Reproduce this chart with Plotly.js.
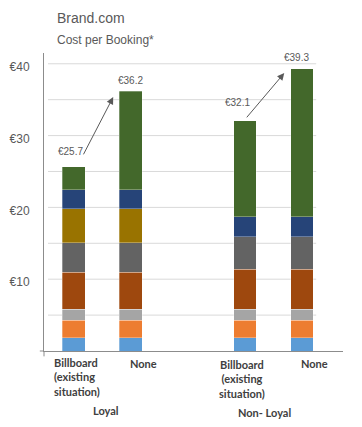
<!DOCTYPE html>
<html>
<head>
<meta charset="utf-8">
<script src="https://cdn.plot.ly/plotly-3.0.1.min.js"></script>
<style>html,body{margin:0;padding:0;background:#fff;}#chart{width:362px;height:427px;}</style>
</head>
<body>
<div id="chart"></div>
<script>
// ---- data ----
var groups = ["Loyal", "Non- Loyal"];
var categories = ["Billboard<br>(existing<br>situation)", "None", "Billboard<br>(existing<br>situation)", "None"];
var groupOf = [0, 0, 1, 1];
var itemOf = [0, 1, 0, 1];
var seg1 = [1.85, 1.85, 1.85, 1.85];   // light blue
var seg2 = [2.45, 2.45, 2.45, 2.45];   // orange
var seg3 = [1.5, 1.5, 1.5, 1.5];       // gray
var seg4 = [5.2, 5.2, 5.6, 5.6];       // brown
var seg5 = [4.1, 4.1, 4.5, 4.5];       // dark gray
var seg6 = [4.7, 4.7, 0, 0];           // gold
var seg7 = [2.65, 2.65, 2.8, 2.8];     // navy
var seg8 = [3.2, 13.75, 13.4, 20.6];   // green
var totals = [25.7, 36.2, 32.1, 39.3];
var yTicks = [10, 20, 30, 40];
var yTickText = ["€10", "€20", "€30", "€40"];

// ---- styling ----
var colors = ["#5B9BD5", "#ED7D31", "#A5A5A5", "#9E480E", "#636363", "#997300", "#264478", "#43682B"];
var series = [seg1, seg2, seg3, seg4, seg5, seg6, seg7, seg8];
var xs = groupOf.map(function (g, i) { return g * 3 + itemOf[i]; });

var traces = series.map(function (s, k) {
  return {
    type: "bar", x: xs, y: s, width: 0.4,
    marker: { color: colors[k], line: { width: 0.6, color: "rgba(255,255,255,0.5)" } },
    hoverinfo: "y", showlegend: false
  };
});

var grey = "#595959";
var annotations = [];
// title
annotations.push({ xref: "paper", yref: "paper", x: 0.037, y: 1.1164, xanchor: "left", yanchor: "middle",
  text: "Brand.com", showarrow: false, font: { family: "Liberation Sans, Arial", size: 14, color: grey } });
annotations.push({ xref: "paper", yref: "paper", x: 0.037, y: 1.0446, xanchor: "left", yanchor: "middle",
  text: "Cost per Booking*", showarrow: false, font: { family: "Liberation Sans, Arial", size: 12, color: grey } });

// value labels
var lblDx = [-3.8, -0.2, -7.3, -5.3];
var lblDy = [15.3, 10.7, 17.6, 11.7];
totals.forEach(function (t, i) {
  annotations.push({ x: xs[i], y: t, xref: "x", yref: "y", text: "€" + t.toFixed(1), showarrow: false,
    xanchor: "center", yanchor: "middle", xshift: lblDx[i], yshift: lblDy[i],
    font: { family: "Liberation Sans, Arial", size: 10, color: grey } });
});

// arrows between bars of each group
var arrows = [
  { tail: [0.156, 27.18], head: [0.69, 35.36] },
  { tail: [3.01, 32.33], head: [3.69, 38.7] }
];
arrows.forEach(function (a) {
  annotations.push({ x: a.head[0], y: a.head[1], ax: a.tail[0], ay: a.tail[1],
    xref: "x", yref: "y", axref: "x", ayref: "y", text: "", showarrow: true,
    arrowhead: 2, arrowsize: 1.4, arrowwidth: 1, arrowcolor: grey, standoff: 0, startstandoff: 0 });
});

// category labels
var catFont = { family: "Lato, Carlito, sans-serif", size: 11, color: "#404040", weight: "bold" };
var catPos = [
  { x: -0.388, y: -0.0883, xa: "left", al: "left" },
  { x: 1.226, y: -0.0413, xa: "center", al: "center" },
  { x: 2.954, y: -0.094, xa: "center", al: "center" },
  { x: 4.223, y: -0.0413, xa: "center", al: "center" }
];
categories.forEach(function (c, i) {
  annotations.push({ x: catPos[i].x, y: catPos[i].y, xref: "x", yref: "paper", text: "<b>" + c + "</b>",
    showarrow: false, xanchor: catPos[i].xa, yanchor: "middle", align: catPos[i].al, font: catFont });
});
var grpPos = [{ x: 0.568, y: -0.201 }, { x: 3.349, y: -0.206 }];
groups.forEach(function (g, i) {
  annotations.push({ x: grpPos[i].x, y: grpPos[i].y, xref: "x", yref: "paper", text: "<b>" + g + "</b>",
    showarrow: false, xanchor: "center", yanchor: "middle", font: catFont });
});

// gridlines (shorter than plot area)
var shapes = [];
[5, 10, 15, 20, 25, 30, 35, 40].forEach(function (v) {
  shapes.push({ type: "line", xref: "x", yref: "y", x0: -0.453, x1: 4.25, y0: v, y1: v,
    line: { color: "#D9D9D9", width: 1 }, layer: "below" });
});
// axis cross extensions
shapes.push({ type: "line", xref: "paper", yref: "paper", x0: -0.014, x1: 0, y0: 0, y1: 0, line: { color: "#8C8C8C", width: 1 } });
shapes.push({ type: "line", xref: "paper", yref: "paper", x0: 0, x1: 0, y0: 0, y1: -0.018, line: { color: "#8C8C8C", width: 1 } });

var layout = {
  width: 362, height: 427,
  margin: { l: 44, r: 19, t: 53, b: 76 },
  paper_bgcolor: "#fff", plot_bgcolor: "#fff",
  barmode: "stack",
  xaxis: { range: [-0.523, 4.72], showticklabels: false, showgrid: false, zeroline: false,
    showline: true, linecolor: "#8C8C8C", linewidth: 1, ticks: "", fixedrange: true },
  yaxis: { range: [0, 41.5], tickvals: yTicks, ticktext: yTickText, showgrid: false, zeroline: false,
    showline: true, linecolor: "#8C8C8C", linewidth: 1, ticks: "", ticklabelstandoff: 11, ticklabelshift: 3,
    tickfont: { family: "Liberation Sans, Arial", size: 12, color: grey }, fixedrange: true },
  annotations: annotations,
  shapes: shapes
};

Plotly.newPlot("chart", traces, layout, { displayModeBar: false, staticPlot: true });
</script>
</body>
</html>
